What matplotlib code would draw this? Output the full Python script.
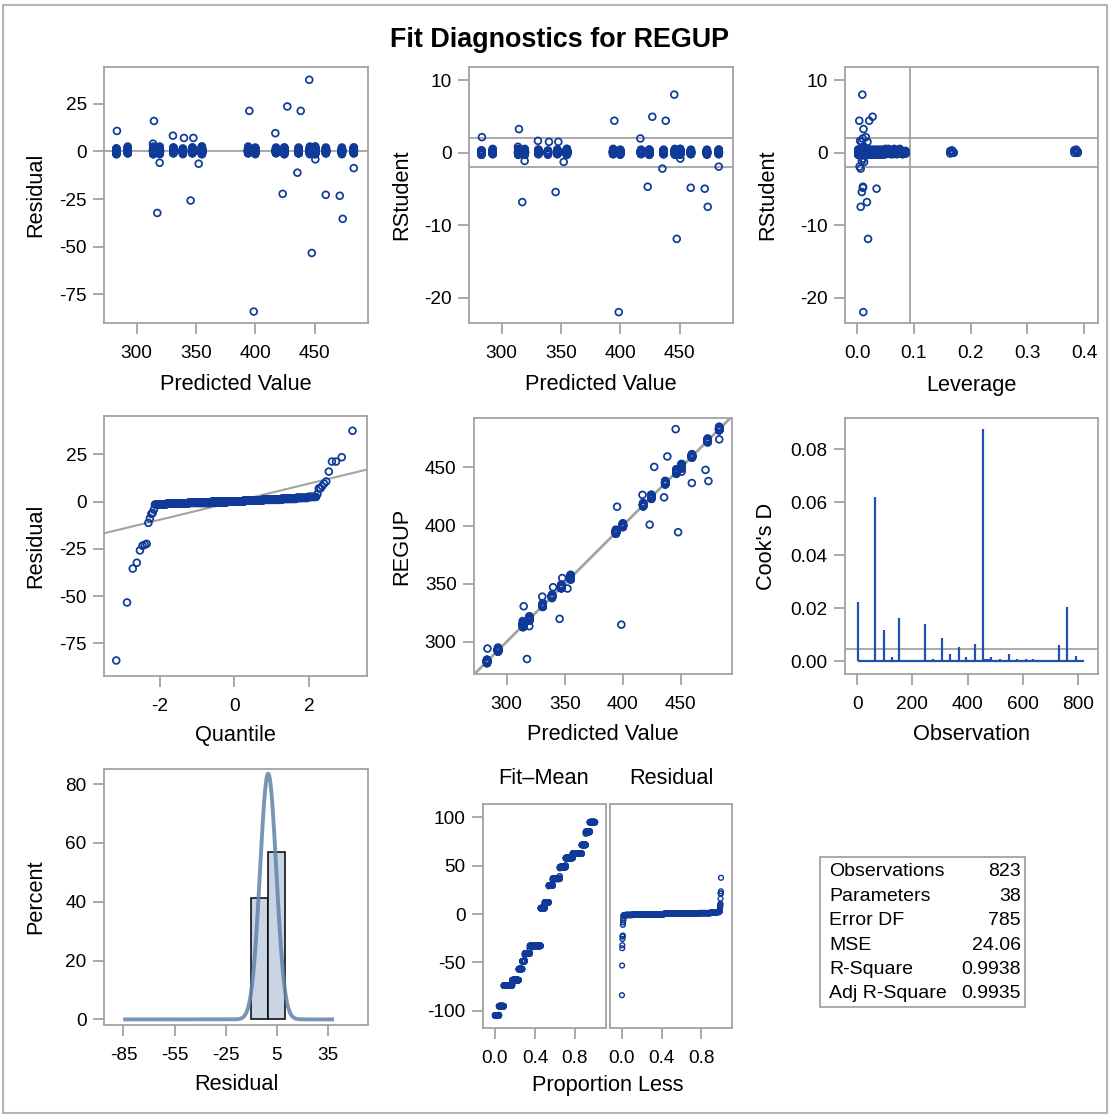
import numpy as np
import matplotlib.pyplot as plt
from matplotlib.patches import Rectangle
from matplotlib.ticker import FormatStrFormatter
from statistics import NormalDist

plt.rcParams['font.family'] = ['Liberation Sans', 'DejaVu Sans']
plt.rcParams['axes.unicode_minus'] = False

# fit statistics
n_obs = 823
n_params = 38
error_df = 785
mse = 24.06
r_square = 0.9938
adj_r_square = 0.9935

# bulk of the observations: fitted value groups and counts
fit_groups = [283, 292.5, 314, 319.5, 331, 339, 347, 355, 394, 400,
              417.5, 424.5, 436.5, 446, 450.5, 459.5, 473, 483]
fit_counts = [32, 39, 67, 52, 28, 20, 39, 89, 32, 32,
              32, 56, 47, 56, 73, 32, 31, 42]

# bulk residuals (all near zero) and counts
bulk_res_vals = [-1.5, -1.0, -0.6, -0.2, 0.2, 0.6, 1.0, 1.5, 2.0, 2.5]
bulk_res_counts = [15, 60, 130, 130, 150, 140, 100, 45, 20, 9]

# bulk leverage values and counts
bulk_lev_vals = [0.002, 0.006, 0.010, 0.015, 0.020, 0.025, 0.030, 0.035, 0.040, 0.045,
                 0.050, 0.055, 0.060, 0.065, 0.070, 0.075, 0.080, 0.085,
                 0.164, 0.167, 0.170, 0.383, 0.386, 0.389]
bulk_lev_counts = [120, 110, 90, 70, 60, 50, 45, 40, 35, 30,
                   25, 22, 20, 18, 16, 14, 12, 10,
                   2, 2, 2, 2, 2, 2]

# observations away from the band
out_fit = [283.4, 314.6, 313.8, 330.6, 339.9, 347.8, 319.4, 352.3, 317.4, 345.5, 395.0, 398.7,
           416.9, 427.0, 438.3, 445.5, 423.1, 435.5, 450.6, 447.6, 459.4, 471.2, 473.7, 483.0]
out_res = [10.7, 15.9, 4.0, 8.2, 7.0, 7.0, -6.0, -6.5, -32.3, -25.8, 21.2, -84.0,
           9.5, 23.5, 21.2, 37.5, -22.3, -11.2, -4.2, -53.3, -22.8, -23.3, -35.4, -8.8]
out_rstud = [2.13, 3.24, 0.79, 1.62, 1.48, 1.48, -1.15, -1.29, -6.83, -5.44, 4.39, -22.0,
             1.94, 4.94, 4.39, 7.99, -4.71, -2.21, -0.83, -11.9, -4.85, -4.98, -7.48, -1.94]
out_lev = [0.015, 0.011, 0.012, 0.005, 0.018, 0.008, 0.008, 0.012, 0.017, 0.008, 0.0035, 0.0106,
           0.0095, 0.027, 0.021, 0.0089, 0.010, 0.006, 0.010, 0.019, 0.010, 0.034, 0.006, 0.004]

# Cook's D needles
cook_obs = [3, 64, 96, 125, 152, 246, 274, 307, 335, 368, 396, 428, 456,
            462, 470, 478, 484, 518, 551, 579, 611, 639, 733, 761, 795]
cook_d = [0.0226, 0.062, 0.0117, 0.0015, 0.0163, 0.0141, 0.0009, 0.009, 0.0028, 0.0055,
          0.0015, 0.0065, 0.0875, 0.0008, 0.0008, 0.0008, 0.0015, 0.0009, 0.0028, 0.0009,
          0.0009, 0.0009, 0.0063, 0.0204, 0.0021]

# ---- build per-observation arrays ----
nb = sum(fit_counts)
bulk_fit = np.repeat(fit_groups, fit_counts)
bulk_res = np.repeat(bulk_res_vals, bulk_res_counts)[(np.arange(nb) * 211) % nb]
bulk_lev = np.repeat(bulk_lev_vals, bulk_lev_counts)[(np.arange(nb) * 97) % nb]
rmse = np.sqrt(mse)
bulk_rstud = bulk_res / rmse

fit = np.concatenate([bulk_fit, out_fit])
res = np.concatenate([bulk_res, out_res])
rstud = np.concatenate([bulk_rstud, out_rstud])
lev = np.concatenate([bulk_lev, out_lev])
regup = fit + res

BLUE = '#0f3a98'
GRAY = '#a3a3a3'
TICK_FS = 13.7
LAB_FS = 15.7
W, H = 1110, 1115

fig = plt.figure(figsize=(W / 100, H / 100), dpi=100)
fig.patches.append(Rectangle((3 / W, 2 / H), 1104 / W, 1108 / H, transform=fig.transFigure,
                             fill=False, edgecolor='#b5b5b5', linewidth=1.5))
fig.text(560 / W, 1 - 40 / H, 'Fit Diagnostics for REGUP', ha='center', va='center',
         fontsize=19.4, fontweight='bold')


def panel(x0, y0, x1, y1):
    ax = fig.add_axes([x0 / W, 1 - y1 / H, (x1 - x0) / W, (y1 - y0) / H])
    for s in ax.spines.values():
        s.set_color(GRAY)
        s.set_linewidth(1.3)
    ax.tick_params(direction='out', length=8, width=1.3, color=GRAY, labelsize=TICK_FS)
    ax.tick_params(axis='x', pad=8)
    ax.tick_params(axis='y', pad=4.5)
    ax.box = (x0, y0, x1, y1)
    return ax


def labels(ax, xlab, ylab, xl_y, yl_x, xl_x=None):
    x0, y0, x1, y1 = ax.box
    if xlab:
        ax.set_xlabel(xlab, fontsize=LAB_FS, va='center')
        cx = (x0 + x1) / 2 if xl_x is None else xl_x
        ax.xaxis.set_label_coords((cx - x0) / (x1 - x0), (y1 - xl_y) / (y1 - y0))
    if ylab:
        ax.set_ylabel(ylab, fontsize=LAB_FS, va='center')
        ax.yaxis.set_label_coords((yl_x - x0) / (x1 - x0), 0.5)


def dots(ax, x, y, s=24, lw=1.25):
    ax.scatter(x, y, s=s, facecolors='none', edgecolors=BLUE, linewidths=lw, zorder=3)


# residual vs predicted
ax1 = panel(104, 67, 368, 323)
ax1.axhline(0, color=GRAY, lw=1.3)
dots(ax1, fit, res)
ax1.set_xlim(272.5, 495)
ax1.set_ylim(-90, 44.2)
ax1.set_xticks([300, 350, 400, 450])
ax1.set_yticks([25, 0, -25, -50, -75])
labels(ax1, 'Predicted Value', 'Residual', 385, 36)

# rstudent vs predicted
ax2 = panel(469, 67, 733, 323)
ax2.axhline(2, color=GRAY, lw=1.3)
ax2.axhline(-2, color=GRAY, lw=1.3)
dots(ax2, fit, rstud)
ax2.set_xlim(272.5, 495)
ax2.set_ylim(-23.5, 11.8)
ax2.set_xticks([300, 350, 400, 450])
ax2.set_yticks([10, 0, -10, -20])
labels(ax2, 'Predicted Value', 'RStudent', 385, 402)

# rstudent vs leverage
ax3 = panel(845, 67, 1098, 323)
ax3.axhline(2, color=GRAY, lw=1.3)
ax3.axhline(-2, color=GRAY, lw=1.3)
ax3.axvline(2 * n_params / n_obs, color=GRAY, lw=1.3)
dots(ax3, lev, rstud)
ax3.set_xlim(-0.0217, 0.4247)
ax3.set_ylim(-23.5, 11.8)
ax3.set_xticks([0.0, 0.1, 0.2, 0.3, 0.4])
ax3.xaxis.set_major_formatter(FormatStrFormatter('%.1f'))
ax3.set_yticks([10, 0, -10, -20])
labels(ax3, 'Leverage', 'RStudent', 385, 768)

# normal quantile plot of residuals
nd = NormalDist()
q = np.array([nd.inv_cdf((i - 0.375) / (n_obs + 0.25)) for i in range(1, n_obs + 1)])
res_sorted = np.sort(res)
ax4 = panel(104, 416, 367, 676)
ax4.axline((0, res.mean()), slope=res.std(ddof=1), color=GRAY, lw=1.5, zorder=2)
dots(ax4, q, res_sorted)
ax4.set_xlim(-3.5, 3.56)
ax4.set_ylim(-92.2, 45.3)
ax4.set_xticks([-2, 0, 2])
ax4.set_yticks([25, 0, -25, -50, -75])
labels(ax4, 'Quantile', 'Residual', 735, 36)

# observed vs predicted
ax5 = panel(474, 418, 732, 674)
ax5.axline((300, 300), (400, 400), color=GRAY, lw=2, zorder=2)
dots(ax5, fit, regup)
ax5.set_xlim(271.8, 494)
ax5.set_ylim(272.2, 492.6)
ax5.set_xticks([300, 350, 400, 450])
ax5.set_yticks([300, 350, 400, 450])
labels(ax5, 'Predicted Value', 'REGUP', 735, 402)

# Cook's D
ax6 = panel(845, 418, 1098, 674)
ax6.axhline(4 / n_obs, color=GRAY, lw=1.3)
ax6.hlines(0, 1, n_obs, color='#2250b0', lw=1.6, zorder=3)
ax6.vlines(cook_obs, 0, cook_d, color='#2250b0', lw=1.6, zorder=3)
ax6.set_xlim(-44.6, 873.6)
ax6.set_ylim(-0.00474, 0.0918)
ax6.set_xticks([0, 200, 400, 600, 800])
ax6.set_yticks([0.0, 0.02, 0.04, 0.06, 0.08])
ax6.yaxis.set_major_formatter(FormatStrFormatter('%.2f'))
labels(ax6, 'Observation', "Cook's D", 735, 767)

# histogram of residuals
bin_edges = np.arange(-90, 50, 10)
counts, _ = np.histogram(res, bins=bin_edges)
pct = counts / n_obs * 100
keep = pct > 1
ax7 = panel(104, 769, 368, 1025)
ax7.bar(bin_edges[:-1][keep], pct[keep], width=10, align='edge', color='#c9d5e5',
        edgecolor='black', linewidth=1.1, zorder=2)
sd = res.std(ddof=1)
xs = np.linspace(res.min(), res.max(), 400)
ax7.plot(xs, 100 * 10 * np.exp(-0.5 * ((xs - res.mean()) / sd) ** 2) / (sd * np.sqrt(2 * np.pi)),
         color='#6283a9', lw=2.8, alpha=0.85, zorder=3)
ax7.set_xlim(-96.4, 58.6)
ax7.set_ylim(-1.9, 85.1)
ax7.set_xticks([-85, -55, -25, 5, 35])
ax7.set_yticks([0, 20, 40, 60, 80])
labels(ax7, 'Residual', 'Percent', 1085, 36)

# residual-fit spread plot
prop = (np.arange(1, n_obs + 1) - 0.5) / n_obs
fit_mean = np.sort(fit - regup.mean())
ax8a = panel(483, 804, 606, 1028)
ax8b = panel(610, 804, 732, 1028)
dots(ax8a, prop, fit_mean, s=14, lw=1.1)
dots(ax8b, prop, res_sorted, s=12, lw=1.0)
for a in (ax8a, ax8b):
    a.set_xlim(-0.12, 1.11)
    a.set_ylim(-118, 113.9)
    a.set_xticks([0.0, 0.4, 0.8])
    a.xaxis.set_major_formatter(FormatStrFormatter('%.1f'))
ax8a.set_yticks([100, 50, 0, -50, -100])
ax8b.set_yticks([])
labels(ax8a, 'Proportion Less', None, 1085, 0, xl_x=607.5)
fig.text(544 / W, 1 - 779 / H, 'Fit\u2013Mean', ha='center', va='center', fontsize=LAB_FS)
fig.text(671 / W, 1 - 779 / H, 'Residual', ha='center', va='center', fontsize=LAB_FS)

# statistics table
fig.patches.append(Rectangle((820 / W, 1 - 1007 / H), 205 / W, 150 / H, transform=fig.transFigure,
                             fill=False, edgecolor=GRAY, linewidth=1.3))
stat_names = ['Observations', 'Parameters', 'Error DF', 'MSE', 'R-Square', 'Adj R-Square']
stat_vals = [str(n_obs), str(n_params), str(error_df), f'{mse:.2f}', f'{r_square:.4f}', f'{adj_r_square:.4f}']
for i, (nm, v) in enumerate(zip(stat_names, stat_vals)):
    yy = 1 - (872 + i * 24.4) / H
    fig.text(829 / W, yy, nm, ha='left', va='center', fontsize=14)
    fig.text(1021 / W, yy, v, ha='right', va='center', fontsize=14)

fig.savefig('out.png', dpi=100)
